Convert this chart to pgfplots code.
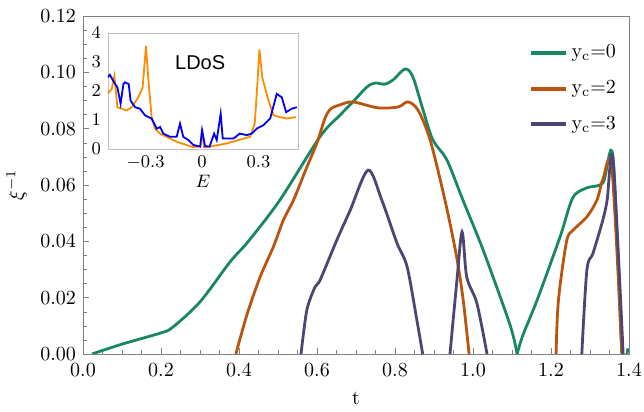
\documentclass[border=0pt]{standalone}
\usepackage{fontspec}
\usepackage{pgfplots}
\pgfplotsset{compat=1.18}
\newfontfamily\ldos{Liberation Sans}
\definecolor{cgreen}{RGB}{26,135,100}
\definecolor{cbrown}{RGB}{185,85,15}
\definecolor{cpurple}{RGB}{75,70,115}
\definecolor{corange}{RGB}{255,140,0}
\definecolor{cblue}{RGB}{0,0,245}
\begin{document}
\begin{tikzpicture}
\path[use as bounding box] (-41.5pt,-29pt) rectangle (280.5pt,177pt);
\begin{axis}[
    scale only axis, width=273pt, height=169pt,
    xmin=0, xmax=1.4, ymin=0, ymax=0.12,
    xtick={0,0.2,...,1.4}, ytick={0,0.02,...,0.12},
    minor x tick num=3, minor y tick num=3,
    xtick pos=bottom, ytick pos=left, tick align=inside,
    major tick length=3pt, minor tick length=1.8pt,
    axis line style={gray}, tick style={gray},
    xticklabel style={yshift=-1.5pt, /pgf/number format/fixed, /pgf/number format/fixed zerofill, /pgf/number format/precision=1},
    yticklabel style={/pgf/number format/fixed, /pgf/number format/fixed zerofill, /pgf/number format/precision=2},
    xlabel={t}, ylabel={$\xi^{-1}$},
    xlabel style={yshift=-1pt},
    legend style={draw=none, fill=none, at={(0.995,0.94)}, anchor=north east, row sep=6pt},
    legend cell align=left,
    legend image post style={line width=2pt},
    every axis plot/.append style={line width=1.4pt},
    clip mode=individual,
]
\addplot[cgreen, smooth] coordinates {
(0.023,0) (0.1,0.0035) (0.2,0.0075) (0.23,0.0095) (0.3,0.0185) (0.377,0.0327) (0.424,0.040)
(0.505,0.0547) (0.608,0.0772) (0.659,0.0848) (0.692,0.0895) (0.728,0.0948) (0.749,0.0962)
(0.774,0.0958) (0.795,0.0973) (0.826,0.1012) (0.846,0.0983) (0.872,0.0866) (0.897,0.076)
(0.933,0.0689) (0.974,0.0547) (1.026,0.0369) (1.095,0.0103) (1.113,0)};
\addlegendentry{$\mathrm{y_c}{=}0$}
\addplot[cbrown, smooth] coordinates {
(0.392,0) (0.42,0.0138) (0.454,0.0273) (0.488,0.038) (0.514,0.0476) (0.54,0.0547)
(0.57,0.065) (0.60,0.075) (0.62,0.0835) (0.635,0.0870) (0.66,0.0885) (0.692,0.0895)
(0.756,0.0874) (0.808,0.0877) (0.833,0.0895)
(0.859,0.0866) (0.89,0.076) (0.928,0.0547) (0.958,0.0345) (0.975,0.019) (0.99,0)};
\addlegendentry{$\mathrm{y_c}{=}2$}
\addplot[cpurple, smooth] coordinates {
(0.559,0) (0.574,0.0156) (0.595,0.0238) (0.608,0.0263) (0.651,0.0405) (0.685,0.051)
(0.731,0.0653) (0.766,0.0547) (0.805,0.0394) (0.831,0.031) (0.856,0.0121) (0.871,0)};
\addlegendentry{$\mathrm{y_c}{=}3$}
\addplot[cgreen, smooth, forget plot] coordinates {
(1.113,0) (1.128,0.0067) (1.164,0.019) (1.223,0.0415) (1.256,0.0555) (1.292,0.059)
(1.333,0.0607) (1.359,0.070) (1.382,0) (1.397,0.002)};
\addplot[cbrown, smooth, forget plot] coordinates {
(1.213,0) (1.219,0.019) (1.24,0.040) (1.257,0.044) (1.292,0.0487) (1.318,0.0547)
(1.333,0.0620) (1.356,0.066) (1.382,0)};
\addplot[cpurple, smooth, forget plot] coordinates {
(0.941,0) (0.958,0.025) (0.972,0.0433) (0.984,0.0273) (1.01,0.018) (1.036,0)};
\addplot[cpurple, smooth, forget plot] coordinates {
(1.279,0) (1.292,0.0298) (1.308,0.0359) (1.333,0.0476) (1.344,0.0547) (1.359,0.069) (1.385,0)};
\end{axis}
\begin{axis}[
    at={(12.5pt,102.5pt)}, anchor=south west,
    scale only axis, width=95pt, height=58pt,
    xmin=-0.5, xmax=0.51, ymin=0, ymax=4,
    xtick={-0.3,0,0.3}, ytick={0,1,2,3,4},
    xticklabels={$-0.3$,$0$,$0.3$},
    major tick length=0pt,
    axis line style={gray!50}, axis background/.style={fill=white},
    font=\small,
    xlabel={$E$}, xlabel style={yshift=4pt},
    every axis plot/.append style={line width=0.9pt},
]
\addplot[corange] coordinates {
(-0.502,1.90) (-0.48,2.07) (-0.466,2.52) (-0.45,1.44) (-0.427,1.39) (-0.40,1.33) (-0.374,1.44)
(-0.339,1.78) (-0.316,2.12) (-0.298,3.55) (-0.285,2.35) (-0.268,1.10) (-0.25,0.70) (-0.223,0.53)
(-0.135,0.25) (-0.046,0.06) (-0.008,0.10) (0,0.70) (0.01,0.06) (0.04,0.08) (0.13,0.19)
(0.255,0.42) (0.28,0.875) (0.294,2.24) (0.305,3.43) (0.32,2.47) (0.353,1.67) (0.38,1.16)
(0.415,1.10) (0.45,1.05) (0.50,1.10)};
\addplot[cblue] coordinates {
(-0.502,2.47) (-0.49,2.56) (-0.472,2.35) (-0.45,2.12) (-0.433,1.56) (-0.418,2.24) (-0.41,2.30)
(-0.39,2.24) (-0.38,1.67) (-0.356,1.44) (-0.33,1.39) (-0.303,1.16) (-0.268,1.05) (-0.241,0.70)
(-0.223,0.76) (-0.206,0.53) (-0.17,0.42) (-0.135,0.42) (-0.117,0.875) (-0.10,0.42) (-0.073,0.31)
(-0.046,0.14) (-0.01,0.08) (0,0.65) (0.016,0.10) (0.04,0.08) (0.064,0.53) (0.078,0.31)
(0.099,1.22) (0.11,0.36) (0.167,0.36) (0.2,0.53) (0.238,0.48) (0.264,0.53) (0.29,0.70)
(0.326,0.82) (0.362,1.05) (0.397,1.90) (0.424,1.78) (0.447,1.27) (0.477,1.39) (0.504,1.44)};
\node at (axis cs:-0.01,2.97) {\ldos\normalsize LDoS};
\end{axis}
\end{tikzpicture}
\end{document}
